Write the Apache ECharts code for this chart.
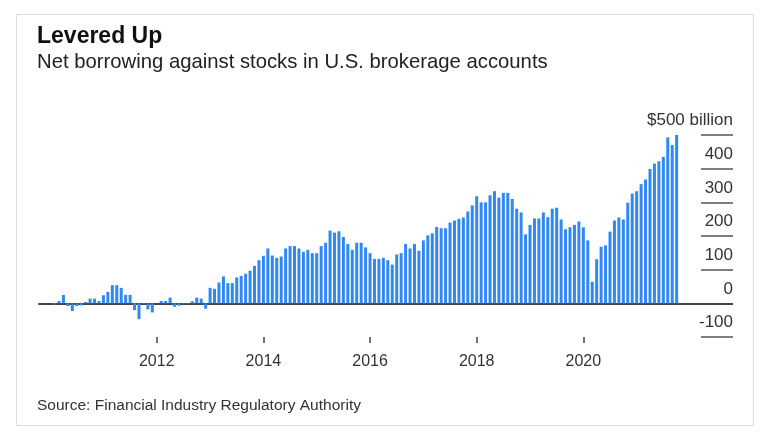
<!DOCTYPE html>
<html><head><meta charset="utf-8">
<script src="https://cdn.jsdelivr.net/npm/echarts@6/dist/echarts.min.js"></script>
<style>
html,body{margin:0;padding:0;background:#fff;}
#frame{position:absolute;left:16px;top:14px;width:736px;height:410px;border:1.5px solid #dedede;}
#chart{position:absolute;left:0;top:0;width:768px;height:439px;}
</style></head><body>
<div id="frame"></div>
<div id="chart"></div>
<script>
// Net borrowing, $ billions, monthly, Feb 2010 - Oct 2021
const v2010 = [-3, 7, 25, -8, -23, -8, -6, 4, 14, 14, 7]; // Feb-Dec
const v2011 = [24, 34, 54, 54, 46, 25, 25, -20, -47, -2, -18, -27];
const v2012 = [0, 7, 7, 17, -10, -7, -2, -2, 6, 17, 14, -16];
const v2013 = [46, 43, 62, 80, 60, 60, 77, 81, 88, 97, 111, 128];
const v2014 = [141, 163, 142, 135, 139, 163, 170, 170, 163, 153, 159, 149];
const v2015 = [149, 170, 180, 216, 210, 214, 197, 176, 159, 180, 180, 166];
const v2016 = [149, 132, 132, 135, 128, 115, 145, 149, 176, 163, 176, 156];
const v2017 = [187, 202, 208, 227, 223, 223, 240, 246, 251, 255, 273, 291];
const v2018 = [318, 300, 300, 321, 333, 314, 328, 328, 310, 281, 270, 205];
const v2019 = [233, 252, 252, 270, 256, 281, 284, 249, 220, 226, 233, 243];
const v2020 = [226, 187, 64, 131, 168, 172, 213, 246, 255, 249, 299, 326];
const v2021 = [333, 354, 368, 399, 415, 422, 435, 493, 470, 510]; // Jan-Oct
const tickYears = ['2012', '2014', '2016', '2018', '2020'];
const yTicks = [-100, 0, 100, 200, 300, 400, 500];

const values = [].concat(v2010, v2011, v2012, v2013, v2014, v2015, v2016, v2017, v2018, v2019, v2020, v2021);
const PAD_BEFORE = 3, PAD_AFTER = 12;
const months = [];
let yy = 2009, mm = 11;
for (let n = 0; n < PAD_BEFORE + values.length + PAD_AFTER; n++) {
  months.push(yy + '-' + (mm < 10 ? '0' + mm : mm));
  mm++; if (mm > 12) { mm = 1; yy++; }
}
const data = [];
for (let n = 0; n < months.length; n++) {
  const k = n - PAD_BEFORE;
  data.push(k >= 0 && k < values.length ? values[k] : null);
}
const FONT = '"Liberation Sans", Arial, Helvetica, sans-serif';
const isTick = (i, v) => v.slice(5) === '01' && tickYears.indexOf(v.slice(0, 4)) >= 0;

const chart = echarts.init(document.getElementById('chart'), null, {renderer: 'canvas'});
chart.setOption({
  animation: false,
  textStyle: {fontFamily: FONT},
  title: [
    {text: 'Levered Up', left: 37, top: 25, padding: 0,
     textStyle: {fontSize: 23, fontWeight: 'bold', color: '#111', fontFamily: FONT}},
    {text: 'Net borrowing against stocks in U.S. brokerage accounts', left: 37, top: 52, padding: 0,
     textStyle: {fontSize: 20.3, fontWeight: 'normal', color: '#222', fontFamily: FONT}},
    {text: 'Source: Financial Industry Regulatory Authority', left: 37, top: 398, padding: 0,
     textStyle: {fontSize: 15.5, fontWeight: 'normal', color: '#333', fontFamily: FONT}}
  ],
  grid: [
    {left: 39, right: 35.8, top: 135, bottom: 102},
    {left: 701, right: 35, top: 135, bottom: 102}
  ],
  xAxis: [
    {type: 'category', gridIndex: 0, data: months, boundaryGap: true,
     axisLine: {show: true, onZero: true, lineStyle: {color: '#444', width: 2}},
     axisTick: {show: false}, axisLabel: {show: false}, splitLine: {show: false}},
    {type: 'category', gridIndex: 0, data: months, boundaryGap: true, position: 'bottom',
     axisLine: {show: false, onZero: false},
     axisTick: {show: true, alignWithLabel: true, interval: isTick, length: 6, lineStyle: {color: '#444', width: 1.5}},
     axisLabel: {show: true, interval: isTick, formatter: v => v.slice(0, 4), margin: 17,
                 fontSize: 16, color: '#333', fontFamily: FONT},
     splitLine: {show: false}},
    {type: 'value', gridIndex: 1, show: false, min: 0, max: 1}
  ],
  yAxis: [
    {type: 'value', gridIndex: 0, min: yTicks[0], max: yTicks[yTicks.length - 1], interval: 100, show: false},
    {type: 'value', gridIndex: 1, min: yTicks[0], max: yTicks[yTicks.length - 1], interval: 100, position: 'right',
     axisLine: {show: false}, axisTick: {show: false},
     splitLine: {show: true, lineStyle: {color: '#555', width: 1.5}},
     axisLabel: {inside: true, margin: 0, verticalAlign: 'bottom', padding: [0, 0, 6, 0],
                 fontSize: 17, color: '#333', fontFamily: FONT,
                 formatter: v => v === 500 ? '$500 billion' : String(v)}}
  ],
  series: [{
    type: 'bar', xAxisIndex: 0, yAxisIndex: 0, data: data, barWidth: 3, silent: true,
    itemStyle: {color: '#2f88f5'}
  }]
});
</script>
</body></html>
